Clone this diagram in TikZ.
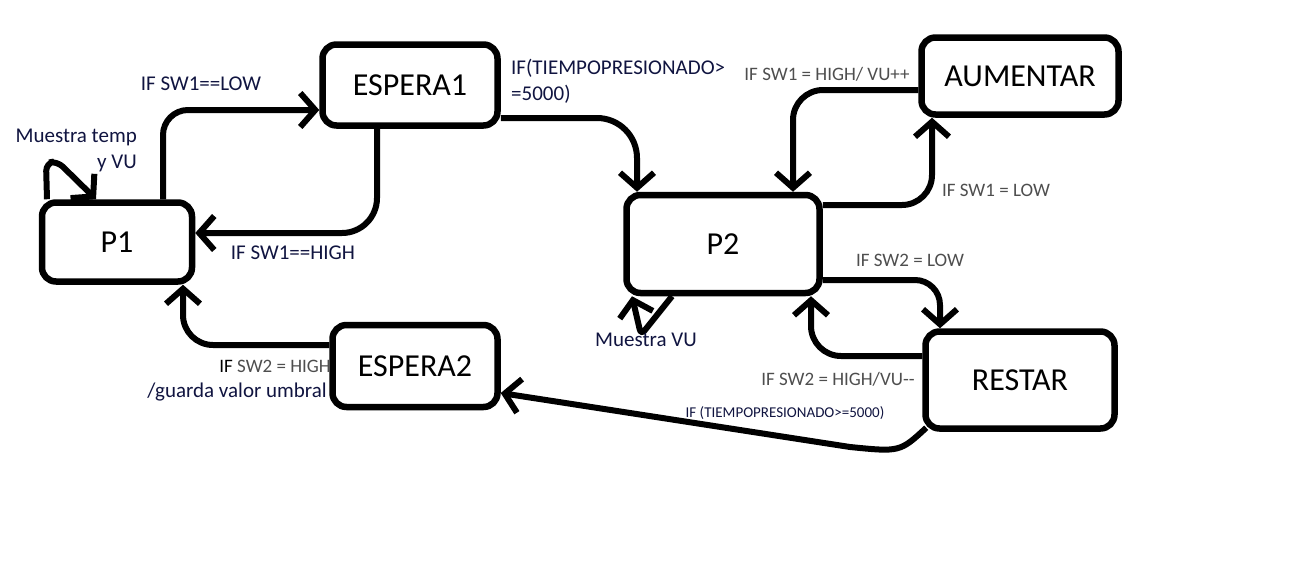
\documentclass[tikz,border=0pt]{standalone}
\usepackage{fontspec}
\setmainfont{Carlito}
\usepackage{xcolor}
\usepackage{tikz}
\usetikzlibrary{positioning,arrows.meta,calc}
\definecolor{txtnavy}{RGB}{16,20,64}
\definecolor{txtgray}{RGB}{78,78,78}
\tikzset{
  box/.style   = {draw, rounded corners=14pt, line width=6.5pt, align=center, font=\fontsize{32}{36}\selectfont, inner sep=0pt},
  flow/.style  = {-{Straight Barb[length=15pt,width=34pt]}, line width=6pt},
  lbl/.style   = {text=txtnavy, font=\fontsize{21}{26}\selectfont, inner sep=0pt},
  glbl/.style  = {text=txtgray, font=\fontsize{19}{23}\selectfont, inner sep=0pt},
}
\begin{document}
\begin{tikzpicture}[x=1pt, y=-1pt]
  \useasboundingbox (0,0) rectangle (1315,568);
  % estados
  \node[box, minimum width=150pt, minimum height=79pt] (p1) at (117,242) {P1};
  \node[box, minimum width=175pt, minimum height=81pt] (e1) at (410,85) {ESPERA1};
  \node[box, minimum width=193pt, minimum height=98pt] (p2) at (723,244) {P2};
  \node[box, minimum width=197pt, minimum height=77pt] (aum) at (1020,76) {AUMENTAR};
  \node[box, minimum width=189pt, minimum height=97pt] (res) at (1020,380) {RESTAR};
  \node[box, minimum width=165pt, minimum height=82pt] (e2) at (415,366) {ESPERA2};

  % transiciones
  \draw[flow, rounded corners=25pt] ([xshift=46pt]p1.north) |- ([yshift=-25pt]e1.west);
  \draw[flow, rounded corners=35pt] ([xshift=-33pt]e1.south) |- ([yshift=9pt]p1.east);
  \draw[flow, rounded corners=40pt] ([yshift=-33pt]e1.east) -| ([xshift=-86pt]p2.north);
  \draw[flow, rounded corners=30pt] ([yshift=39pt]p2.east) -| ([xshift=-88pt]aum.south);
  \draw[flow, rounded corners=30pt] ([yshift=-14pt]aum.west) -| ([xshift=70pt]p2.north);
  \draw[flow, rounded corners=25pt] ([yshift=-36pt]p2.east) -| ([xshift=-80pt]res.north);
  \draw[flow, rounded corners=30pt] ([yshift=24pt]res.west) -| ([xshift=88pt]p2.south);
  \draw[flow, rounded corners=30pt] ([yshift=21pt]e2.west) -| ([xshift=66pt]p1.south);
  \draw[flow] ([shift={(4pt,4pt)}]res.south west) .. controls (900,452) .. (850,447) -- ([yshift=-27pt]e2.east);
  % lazos
  \draw[flow, rounded corners=6pt] ([xshift=-51pt]p2.south) -- (641,335) -- ([xshift=-91pt]p2.south);
  \draw[flow, rounded corners=8pt] ([xshift=-70pt]p1.north) -- (46,163) -- (57,161) -- ([xshift=-21pt]p1.north);

  % etiquetas
  \node[lbl] (l1) at (201,84) {IF SW1==LOW};
  \node[lbl, align=right, anchor=east] (l2) at (137,150) {Muestra temp\\y VU};
  \node[lbl] (l3) at (293,253) {IF SW1==HIGH};
  \node[lbl, align=left, anchor=north west] (l4) at (511,59) {IF(TIEMPOPRESIONADO>\\=5000)};
  \node[glbl] (l5) at (827,74) {IF SW1 = HIGH/ VU++};
  \node[glbl] (l6) at (996,190) {IF SW1 = LOW};
  \node[glbl] (l7) at (910,260) {IF SW2 = LOW};
  \node[lbl] (l8) at (646,340) {Muestra VU};
  \node[glbl] (l9) at (838,379) {IF SW2 = HIGH/VU-{}-};
  \node[lbl, font=\fontsize{15}{18}\selectfont] (l10) at (785,413) {IF (TIEMPOPRESIONADO>=5000)};
  \node[glbl, anchor=east] (l11) at (331,366) {{\color{black}IF} SW2 = HIGH};
  \node[lbl, anchor=east] (l12) at (327,392) {/guarda valor umbral};
\end{tikzpicture}
\end{document}
